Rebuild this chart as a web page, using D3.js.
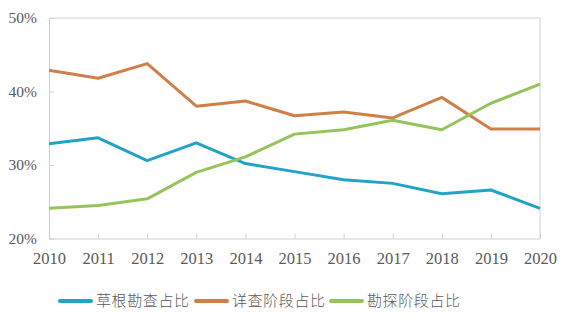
<!DOCTYPE html>
<html><head><meta charset="utf-8">
<script src="https://cdn.jsdelivr.net/npm/d3@7"></script>
<style>html,body{margin:0;padding:0;background:#fff;}</style>
</head><body>
<svg id="c" width="565" height="326"></svg>
<script>
const years = ["2010","2011","2012","2013","2014","2015","2016","2017","2018","2019","2020"];
const seriesNames = ["草根勘查占比","详查阶段占比","勘探阶段占比"];
const grassroots = [32.9,33.7,30.6,33.0,30.2,29.1,28.0,27.5,26.1,26.6,24.1];
const detailed   = [42.9,41.8,43.8,38.0,38.7,36.7,37.2,36.4,39.2,34.9,34.9];
const exploration= [24.1,24.5,25.4,29.0,31.1,34.2,34.8,36.1,34.8,38.4,41.0];
const yTicks = [20,30,40,50];
const colors = ["#23a2c9","#d07f48","#95c45a"];

const svg = d3.select("#c");
const L=49, R=540, T=18, B=238.5;
const x = d3.scalePoint().domain(years).range([L,R]);
const y = d3.scaleLinear().domain([20,50]).range([B,T]);
const axisCol="#d0d0d0", textCol="#595959";

// frame
svg.append("line").attr("x1",L).attr("x2",R).attr("y1",T).attr("y2",T).attr("stroke",axisCol);
svg.append("line").attr("x1",R).attr("x2",R).attr("y1",T).attr("y2",B).attr("stroke",axisCol);

const gx = svg.append("g").attr("transform",`translate(0,${B})`)
  .call(d3.axisBottom(x).tickSizeInner(-5).tickSizeOuter(0).tickPadding(14));
gx.select(".domain").attr("stroke",axisCol);
gx.selectAll(".tick line").attr("stroke",axisCol);
gx.selectAll("text").attr("fill",textCol).style("font-family","'Liberation Serif',serif").style("font-size","16.5px");

const gy = svg.append("g").attr("transform",`translate(${L},0)`)
  .call(d3.axisLeft(y).tickValues(yTicks).tickFormat(d=>d+"%").tickSizeInner(-5).tickSizeOuter(0).tickPadding(12));
gy.select(".domain").attr("stroke",axisCol);
gy.selectAll(".tick line").attr("stroke",axisCol);
gy.selectAll("text").attr("fill",textCol).style("font-family","'Liberation Serif',serif").style("font-size","15.5px");

const line = d3.line().x((d,i)=>x(years[i])).y(d=>y(d));
[grassroots,detailed,exploration].forEach((s,k)=>{
  svg.append("path").datum(s).attr("d",line).attr("fill","none")
    .attr("stroke",colors[k]).attr("stroke-width",3).attr("stroke-linejoin","round");
});

// legend
const legX=[60,196,331];
seriesNames.forEach((n,k)=>{
  svg.append("line").attr("x1",legX[k]).attr("x2",legX[k]+31).attr("y1",301).attr("y2",301)
    .attr("stroke",colors[k]).attr("stroke-width",4).attr("stroke-linecap","round");
  svg.append("text").attr("x",legX[k]+36).attr("y",301).attr("dy","0.36em")
    .attr("fill",textCol).style("font-family","'Noto Sans CJK SC',sans-serif").style("font-weight","300")
    .style("font-size","15px").style("letter-spacing","0.6px").text(n);
});
</script>
</body></html>
